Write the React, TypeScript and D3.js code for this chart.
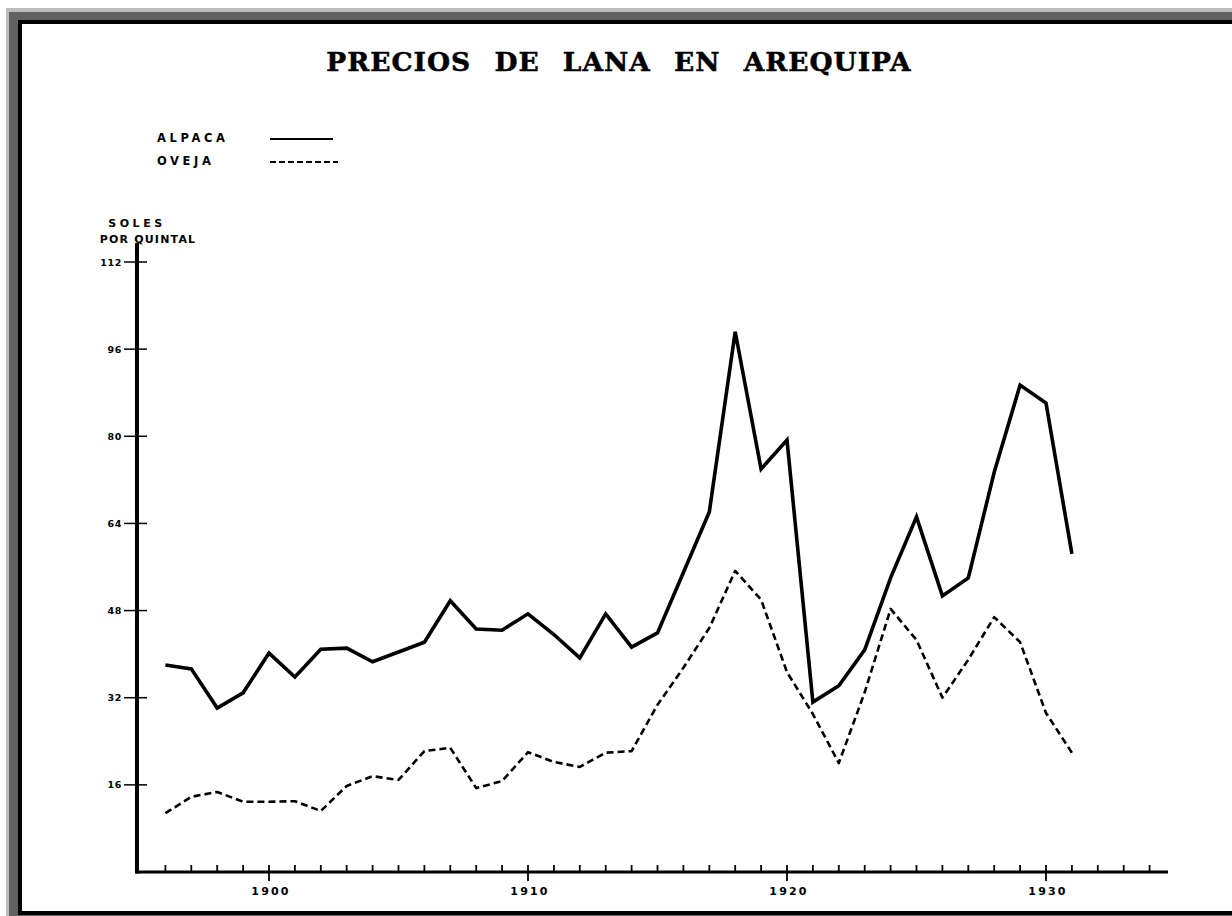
import React, { useEffect, useRef } from 'react';
import * as d3 from 'd3';

// años 1896 - 1931, soles por quintal
const years = d3.range(1896, 1932);
const alpaca = [38.0, 37.3, 30.1, 32.9, 40.2, 35.8, 40.9, 41.1, 38.6, 40.4, 42.2, 49.8, 44.6, 44.4, 47.4, 43.6, 39.3, 47.4, 41.3, 43.9,
    55.0, 66.1, 99.2, 74.0, 79.3, 31.2, 34.2, 40.8, 54.0, 65.2, 50.7, 54.0, 73.4, 89.4, 86.1, 58.4];
const oveja = [10.8, 13.8, 14.7, 12.9, 12.9, 13.0, 11.2, 15.8, 17.6, 16.9, 22.2, 22.8, 15.4, 16.7, 22.0, 20.2, 19.3, 21.9, 22.2, 30.7,
    37.5, 44.8, 55.3, 50.0, 36.7, 29.0, 20.0, 33.0, 48.3, 42.6, 32.0, 39.0, 46.8, 42.2, 29.2, 21.9];
const yTickValues = [16, 32, 48, 64, 80, 96, 112];
const xTickYears = d3.range(1896, 1935);
const xLabelYears = [1900, 1910, 1920, 1930];

const W = 1232;
const H = 916;
const sans = '"DejaVu Sans", "Liberation Sans", sans-serif';

const App = () => {
    const svgRef = useRef<SVGSVGElement>(null);

    useEffect(() => {
        document.body.style.margin = '0';
        const svg = d3.select(svgRef.current);
        svg.selectAll('*').remove();

        // marco
        svg.append('rect').attr('width', W).attr('height', H).attr('fill', '#ffffff');
        svg.append('rect').attr('x', 6).attr('y', 8).attr('width', W - 6).attr('height', H - 8).attr('fill', '#bdbdbd');
        svg.append('rect').attr('x', 9).attr('y', 12).attr('width', W - 9).attr('height', H - 12).attr('fill', '#616161');
        svg.append('rect').attr('x', 18).attr('y', 20).attr('width', W - 18).attr('height', 915 - 20).attr('fill', '#000000');
        svg.append('rect').attr('x', 22).attr('y', 24).attr('width', W - 22).attr('height', 911 - 24).attr('fill', '#ffffff');

        const x = d3.scaleLinear().domain([1900, 1930]).range([269, 1046]);
        const y = d3.scaleLinear().domain([0, 112]).range([872, 262]);
        const x0 = 137;
        const y0 = y(0);

        // titulo
        svg.append('text')
            .attr('x', 619).attr('y', 71)
            .attr('text-anchor', 'middle')
            .attr('font-family', '"DejaVu Serif", "Liberation Serif", serif')
            .attr('font-weight', 'bold')
            .attr('font-size', 26.5)
            .attr('letter-spacing', 1)
            .attr('word-spacing', 13)
            .attr('stroke', '#000').attr('stroke-width', 0.5)
            .attr('fill', '#000')
            .text('PRECIOS DE LANA EN AREQUIPA');

        // leyenda
        const legend = svg.append('g').attr('font-family', sans).attr('font-weight', 'bold').attr('font-size', 11.5).attr('fill', '#000');
        legend.append('text').attr('x', 157).attr('y', 141.5).attr('letter-spacing', 3.6).text('ALPACA');
        legend.append('text').attr('x', 157).attr('y', 165).attr('letter-spacing', 3.6).text('OVEJA');
        svg.append('line').attr('x1', 270).attr('x2', 333).attr('y1', 139).attr('y2', 139).attr('stroke', '#000').attr('stroke-width', 2);
        svg.append('line').attr('x1', 270).attr('x2', 338).attr('y1', 162).attr('y2', 162).attr('stroke', '#000').attr('stroke-width', 2)
            .attr('stroke-dasharray', '6,3');

        // titulo eje y
        const yTitle = svg.append('g').attr('font-family', sans).attr('font-weight', 'bold').attr('font-size', 11)
            .attr('text-anchor', 'middle').attr('fill', '#000');
        yTitle.append('text').attr('x', 137).attr('y', 226.5).attr('letter-spacing', 3.6).text('SOLES');
        yTitle.append('text').attr('x', 148).attr('y', 242.5).attr('letter-spacing', 1.2).text('POR QUINTAL');

        // ejes
        svg.append('line').attr('x1', x0).attr('x2', x0).attr('y1', 243).attr('y2', y0 + 1.5)
            .attr('stroke', '#000').attr('stroke-width', 4);
        svg.append('line').attr('x1', x0 - 2).attr('x2', 1168).attr('y1', y0).attr('y2', y0)
            .attr('stroke', '#000').attr('stroke-width', 3);

        svg.append('g').selectAll('line').data(yTickValues).join('line')
            .attr('x1', 124).attr('x2', 147)
            .attr('y1', d => y(d)).attr('y2', d => y(d))
            .attr('stroke', '#000').attr('stroke-width', 1.5);
        svg.append('g').attr('font-family', sans).attr('font-weight', 'bold').attr('font-size', 9.5)
            .attr('text-anchor', 'end').attr('fill', '#000')
            .selectAll('text').data(yTickValues).join('text')
            .attr('x', 122).attr('y', d => y(d) + 3.5).attr('letter-spacing', 0.6)
            .text(d => d);

        svg.append('g').selectAll('line').data(xTickYears).join('line')
            .attr('x1', d => x(d)).attr('x2', d => x(d))
            .attr('y1', y0 - 7)
            .attr('y2', d => (xLabelYears.includes(d) ? y0 + 9 : y0))
            .attr('stroke', '#000').attr('stroke-width', 1.8);
        svg.append('g').attr('font-family', sans).attr('font-weight', 'bold').attr('font-size', 11)
            .attr('text-anchor', 'middle').attr('fill', '#000')
            .selectAll('text').data(xLabelYears).join('text')
            .attr('x', d => x(d) + 2).attr('y', 894.5).attr('letter-spacing', 2.2)
            .text(d => d);

        // series
        const line = d3.line<number>().x((_, i) => x(years[i])).y(d => y(d));
        svg.append('path').attr('d', line(oveja)).attr('fill', 'none').attr('stroke', '#000')
            .attr('stroke-width', 2.6).attr('stroke-dasharray', '7,4').attr('stroke-linejoin', 'round');
        svg.append('path').attr('d', line(alpaca)).attr('fill', 'none').attr('stroke', '#000')
            .attr('stroke-width', 3.6).attr('stroke-linejoin', 'miter');
    }, []);

    return <svg ref={svgRef} width={W} height={H} style={{ display: 'block' }}></svg>;
};

export default App;
